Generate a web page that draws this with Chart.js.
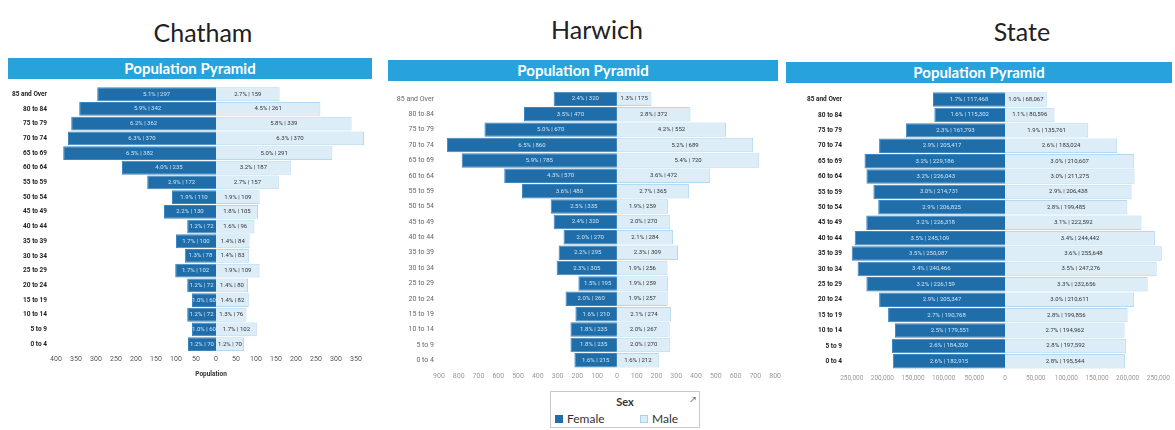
<!DOCTYPE html>
<html>
<head>
<meta charset="utf-8">
<script src="https://cdn.jsdelivr.net/npm/chart.js@4"></script>
<style>
  html, body { margin: 0; padding: 0; background: #ffffff; }
  body { width: 1175px; height: 430px; position: relative; overflow: hidden; font-family: Lato, "Open Sans", sans-serif; }
  .town { position: absolute; font-size: 25px; color: #222; text-align: center; transform: translateX(-50%); white-space: nowrap; }
  .band { position: absolute; height: 21px; background: #27a2da; color: #fff; font: bold 15px Lato, "Open Sans", sans-serif; line-height: 21px; text-align: center; }
  canvas { position: absolute; }
  #legend { position: absolute; left: 550px; top: 391px; width: 150px; height: 37px; border: 1px solid #c9c9c9; box-sizing: border-box; font-family: Lato, "Open Sans", sans-serif; }
  #legend .ttl { position: absolute; left: 0; right: 0; top: 3px; text-align: center; font-weight: bold; font-size: 11px; color: #333; }
  #legend .item { position: absolute; top: 20px; font-size: 12px; color: #333; line-height: 14px; }
  #legend .sw { display: inline-block; width: 8px; height: 8px; margin-right: 4px; vertical-align: 0px; }
  #legend .pin { position: absolute; right: 3px; top: 2px; font-size: 8px; color: #555; }
</style>
</head>
<body>
<div class="town" style="left:203px;top:17px;">Chatham</div>
<div class="town" style="left:597px;top:14px;">Harwich</div>
<div class="town" style="left:1022px;top:16px;">State</div>

<div class="band" style="left:8px;top:58px;width:364px;">Population Pyramid</div>
<div class="band" style="left:388px;top:60px;width:390px;">Population Pyramid</div>
<div class="band" style="left:786px;top:62px;width:386px;">Population Pyramid</div>

<canvas id="chatham" width="368" height="302" style="left:8px;top:80px;"></canvas>
<canvas id="harwich" width="397" height="300" style="left:388px;top:84px;"></canvas>
<canvas id="state" width="389" height="300" style="left:786px;top:85px;"></canvas>

<div id="legend">
  <div class="ttl">Sex</div>
  <div class="pin">&#8599;</div>
  <div class="item" style="left:4px;"><span class="sw" style="background:#1f6eaa;"></span>Female</div>
  <div class="item" style="left:89px;"><span class="sw" style="background:#dcedf8;border:1px solid #a9d2ee;box-sizing:border-box;"></span>Male</div>
</div>

<script>
// Age groups, oldest at the top
const ageGroups = ["85 and Over", "80 to 84", "75 to 79", "70 to 74", "65 to 69", "60 to 64",
  "55 to 59", "50 to 54", "45 to 49", "40 to 44", "35 to 39", "30 to 34", "25 to 29",
  "20 to 24", "15 to 19", "10 to 14", "5 to 9", "0 to 4"];

// Chatham
const chathamFemale = [297, 342, 362, 370, 382, 235, 172, 110, 130, 72, 100, 78, 102, 72, 60, 72, 60, 70];
const chathamMale   = [159, 261, 339, 370, 291, 187, 157, 109, 105, 96, 84, 83, 109, 80, 82, 76, 102, 70];
const chathamTicks  = [-400, -350, -300, -250, -200, -150, -100, -50, 0, 50, 100, 150, 200, 250, 300, 350];

// Harwich
const harwichFemale = [320, 470, 670, 860, 785, 570, 480, 335, 320, 270, 295, 305, 195, 260, 210, 235, 235, 215];
const harwichMale   = [175, 372, 552, 689, 720, 472, 365, 259, 270, 284, 309, 256, 259, 257, 274, 267, 270, 212];
const harwichTicks  = [-900, -800, -700, -600, -500, -400, -300, -200, -100, 0, 100, 200, 300, 400, 500, 600, 700, 800];

// State
const stateFemale = [117468, 115302, 161793, 205417, 229186, 226043, 214731, 206825, 226318,
  245109, 250087, 240466, 226159, 205347, 190768, 179551, 184320, 182915];
const stateMale   = [68067, 80596, 135761, 183024, 210607, 211275, 206438, 199485, 222592,
  244442, 255648, 247276, 232656, 210611, 199856, 194962, 197592, 195544];
const stateTicks  = [-250000, -200000, -150000, -100000, -50000, 0, 50000, 100000, 150000, 200000, 250000];

const FEMALE = '#1f6eaa', FEMALE_EDGE = '#3d86bf';
const MALE = '#dcedf8', MALE_EDGE = '#b3d8f0';

// Writes "pct% | count" in the middle of every bar
const barLabels = {
  id: 'barLabels',
  afterDatasetsDraw(chart, args, opts) {
    const ctx = chart.ctx;
    const total = opts.total;
    chart.data.datasets.forEach((ds, di) => {
      const meta = chart.getDatasetMeta(di);
      meta.data.forEach((bar, i) => {
        const v = Math.abs(ds.data[i]);
        const txt = (v / total * 100).toFixed(1) + '% | ' + v.toLocaleString('en-US');
        ctx.save();
        ctx.font = opts.font;
        ctx.fillStyle = di === 0 ? '#cfe4f4' : '#333333';
        ctx.textAlign = 'center';
        ctx.textBaseline = 'middle';
        ctx.fillText(txt, (bar.x + bar.base) / 2, bar.y);
        ctx.restore();
      });
    });
  }
};

function pyramid(id, female, male, tickValues, cfg) {
  const total = female.reduce((a, b) => a + b, 0) + male.reduce((a, b) => a + b, 0);
  return new Chart(document.getElementById(id), {
    type: 'bar',
    data: {
      labels: ageGroups,
      datasets: [
        { label: 'Female', data: female.map(v => -v), backgroundColor: FEMALE, borderColor: FEMALE_EDGE,
          borderWidth: 1, barPercentage: 0.94, categoryPercentage: 1 },
        { label: 'Male', data: male, backgroundColor: MALE, borderColor: MALE_EDGE,
          borderWidth: 1, barPercentage: 0.94, categoryPercentage: 1 }
      ]
    },
    options: {
      indexAxis: 'y',
      responsive: false,
      animation: false,
      devicePixelRatio: 1,
      layout: { padding: cfg.padding },
      plugins: {
        legend: { display: false },
        tooltip: { enabled: false },
        barLabels: { total: total, font: cfg.labelFont }
      },
      scales: {
        x: {
          stacked: true,
          min: cfg.min, max: cfg.max,
          grid: { display: false, drawTicks: false },
          border: { display: false },
          afterBuildTicks: s => { s.ticks = tickValues.map(v => ({ value: v })); },
          ticks: {
            autoSkip: false, maxRotation: 0,
            padding: cfg.xPad, color: cfg.xColor, font: cfg.xFont,
            callback: v => Math.abs(v).toLocaleString('en-US')
          },
          title: cfg.xTitle,
          afterFit: s => { s.height = cfg.xHeight; }
        },
        y: {
          stacked: true,
          grid: { display: false, drawTicks: false },
          border: { display: false },
          ticks: { padding: 3, color: cfg.yColor, font: cfg.yFont, autoSkip: false },
          afterFit: s => { s.width = cfg.yWidth; }
        }
      }
    },
    plugins: [barLabels]
  });
}

pyramid('chatham', chathamFemale, chathamMale, chathamTicks, {
  min: -415, max: 390,
  padding: { top: 0.5, right: 4, left: 0, bottom: 0 },
  yWidth: 42, xHeight: 30.5, xPad: 4,
  xColor: '#555', xFont: { family: 'Roboto', size: 7 },
  yColor: '#222', yFont: { family: 'Roboto', size: 6.5, weight: 'bold' },
  labelFont: '6px Roboto',
  xTitle: { display: true, text: 'Population', color: '#333', font: { family: 'Roboto', size: 6.5, weight: 'bold' }, padding: { top: 2, bottom: 4 } }
});

pyramid('harwich', harwichFemale, harwichMale, harwichTicks, {
  min: -910, max: 800,
  padding: { top: 0, right: 6, left: 0, bottom: 0 },
  yWidth: 49, xHeight: 16, xPad: 4,
  xColor: '#999', xFont: { family: 'Roboto', size: 7 },
  yColor: '#666', yFont: { family: 'Roboto', size: 7 },
  labelFont: '6px Roboto',
  xTitle: { display: false }
});

pyramid('state', stateFemale, stateMale, stateTicks, {
  min: -261000, max: 263000,
  padding: { top: 0, right: 3, left: 0, bottom: 0 },
  yWidth: 59, xHeight: 16, xPad: 5,
  xColor: '#999', xFont: { family: 'Roboto', size: 6.5 },
  yColor: '#222', yFont: { family: 'Roboto', size: 6.5, weight: 'bold' },
  labelFont: '6px Roboto',
  xTitle: { display: false }
});
</script>
</body>
</html>
